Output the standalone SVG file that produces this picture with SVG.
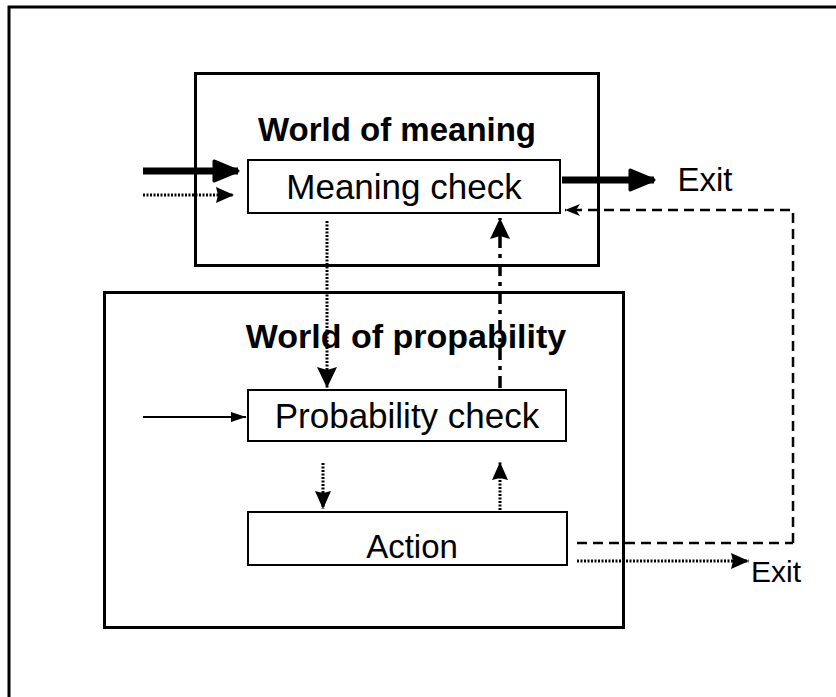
<svg xmlns="http://www.w3.org/2000/svg" width="836" height="697" viewBox="0 0 836 697">
  <defs>
    <style>
      .box { fill: #fff; stroke: #000; stroke-width: 3; }
      .lbl { font-family: "Liberation Sans", Arial, sans-serif; font-size: 35px; fill: #000; text-anchor: middle; }
      .title { font-family: "Liberation Sans", Arial, sans-serif; font-size: 33px; font-weight: bold; fill: #000; text-anchor: middle; }
      .thick { stroke: #000; stroke-width: 7; fill: none; }
      .dot { stroke: #000; stroke-width: 3; stroke-dasharray: 2 1.5; fill: none; }
      .dash { stroke: #000; stroke-width: 2.5; stroke-dasharray: 10 6; fill: none; }
      .dashdot { stroke: #000; stroke-width: 3.5; stroke-dasharray: 12 6 4 6; fill: none; }
      .thin { stroke: #000; stroke-width: 2; fill: none; }
    </style>
    <marker id="big" markerUnits="userSpaceOnUse" markerWidth="30" markerHeight="26" refX="26" refY="12" orient="auto">
      <path d="M2,2 L26,12 L2,22 z" fill="#000" stroke="#000" stroke-width="3" stroke-linejoin="round"/>
    </marker>
    <marker id="med" markerUnits="userSpaceOnUse" markerWidth="24" markerHeight="24" refX="22" refY="11" orient="auto">
      <path d="M1,1 L22,11 L1,21 L4,11 z" fill="#000"/>
    </marker>
    <marker id="sml" markerUnits="userSpaceOnUse" markerWidth="20" markerHeight="18" refX="19" refY="9" orient="auto">
      <path d="M1,1 L19,9 L1,17 L3,9 z" fill="#000"/>
    </marker>
    <marker id="thinhead" markerUnits="userSpaceOnUse" markerWidth="16" markerHeight="12" refX="15" refY="6" orient="auto">
      <path d="M0,1 L15,6 L0,11 z" fill="#000"/>
    </marker>
    <marker id="chev" markerUnits="userSpaceOnUse" markerWidth="16" markerHeight="14" refX="15" refY="7" orient="auto">
      <path d="M0,1 L15,7 L0,13 L4,7 z" fill="#000"/>
    </marker>
  </defs>

  <g id="frame">
    <path d="M9,700 V7 H840" fill="none" stroke="#000" stroke-width="3"/>
  </g>

  <g id="world-of-meaning">
    <rect class="box" x="195.5" y="73.5" width="403" height="192"/>
    <text class="title" x="397" y="141">World of meaning</text>
  </g>

  <g id="world-of-propability">
    <rect class="box" x="104.5" y="292.5" width="519" height="335"/>
    <text class="title" x="406" y="348" style="font-size:34px">World of propability</text>
  </g>

  <g id="meaning-check">
    <rect x="248" y="160" width="312" height="53" fill="#fff" stroke="#000" stroke-width="2"/>
    <text class="lbl" x="404" y="199">Meaning check</text>
  </g>

  <g id="probability-check">
    <rect x="248" y="390" width="318" height="51" fill="#fff" stroke="#000" stroke-width="2"/>
    <text class="lbl" x="407" y="428">Probability check</text>
  </g>

  <g id="action">
    <rect x="248" y="512" width="319" height="53" fill="#fff" stroke="#000" stroke-width="2"/>
    <text class="lbl" x="412" y="558" style="font-size:33px">Action</text>
  </g>

  <g id="exit-top">
    <text class="lbl" x="705" y="191" style="font-size:33px">Exit</text>
  </g>
  <g id="exit-bottom">
    <text class="lbl" x="776" y="582" style="font-size:30px">Exit</text>
  </g>

  <g id="connectors">
    <line class="thick" x1="143" y1="171" x2="238" y2="171" marker-end="url(#big)"/>
    <line class="dot" x1="143" y1="195" x2="234" y2="195" marker-end="url(#sml)"/>
    <line class="thick" x1="562" y1="180" x2="654" y2="180" marker-end="url(#big)"/>
    <polyline class="dash" points="793,543 793,210 565,210" marker-end="url(#chev)"/>
    <line class="dash" x1="577" y1="543" x2="793" y2="543"/>
    <line class="dot" x1="577" y1="561" x2="749" y2="561" marker-end="url(#sml)"/>
    <line class="dot" x1="327" y1="221" x2="327" y2="388" marker-end="url(#med)"/>
    <line class="dashdot" x1="500" y1="388" x2="500" y2="218" marker-end="url(#med)"/>
    <line class="thin" x1="143" y1="417" x2="246" y2="417" marker-end="url(#thinhead)"/>
    <line class="dot" x1="323" y1="463" x2="323" y2="509" marker-end="url(#sml)"/>
    <line class="dot" x1="500" y1="510" x2="500" y2="462" marker-end="url(#sml)"/>
  </g>
</svg>
